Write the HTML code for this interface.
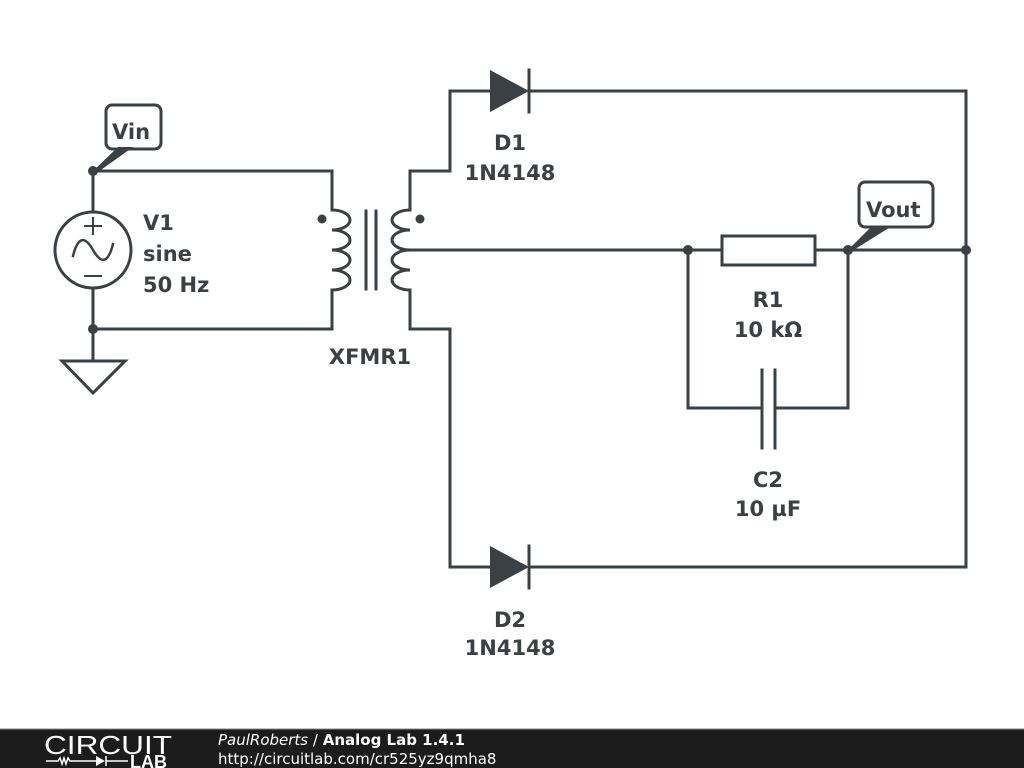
<!DOCTYPE html>
<html><head><style>body{margin:0;width:1024px;height:768px;overflow:hidden;background:#fff}</style></head>
<body>
<svg width="1024" height="768" xmlns="http://www.w3.org/2000/svg" style="position:absolute;left:0;top:0">
<g stroke="#3a4044" stroke-width="3" fill="none" stroke-linecap="square">
<polyline points="93,212 93,171 332,171 332,210"/>
<polyline points="93,288 93,329 332,329 332,290"/>
<line x1="93" y1="329" x2="93" y2="361"/>
<polygon points="62,361 125,361 93,393" stroke-linejoin="miter"/>
<circle cx="93" cy="250" r="38"/>
<path d="M73,256 C78,236 85,236 93,250 C101,264 108,264 113,244" stroke-width="2.5"/>
<line x1="93" y1="218" x2="93" y2="234" stroke-width="2"/><line x1="85" y1="226" x2="101" y2="226" stroke-width="2"/>
<line x1="85" y1="276" x2="101" y2="276" stroke-width="2"/>
<path d="M332,210 a18,10 0 0 1 0,20 a18,10 0 0 1 0,20 a18,10 0 0 1 0,20 a18,10 0 0 1 0,20"/>
<line x1="366" y1="211" x2="366" y2="289"/><line x1="376" y1="211" x2="376" y2="289"/>
<path d="M410,210 a18,10 0 0 0 0,20 a18,10 0 0 0 0,20 a18,10 0 0 0 0,20 a18,10 0 0 0 0,20"/>
<polyline points="410,210 410,171 450,171 450,91 490,91"/>
<polyline points="410,290 410,329 450,329 450,567 490,567"/>
<polyline points="529,91 966,91 966,567 529,567"/>
<line x1="410" y1="250" x2="722" y2="250"/>
<line x1="815" y1="250" x2="966" y2="250"/>
<rect x="722" y="236" width="93" height="29"/>
<polyline points="688,250 688,408 762,408"/>
<polyline points="848,250 848,408 775,408"/>
<line x1="762" y1="370" x2="762" y2="448"/><line x1="775" y1="370" x2="775" y2="448"/>
<line x1="529" y1="70" x2="529" y2="112"/>
<line x1="529" y1="546" x2="529" y2="588"/>
<rect x="106" y="105" width="55" height="44" rx="6"/>
<rect x="859" y="182" width="74" height="45" rx="6"/>
</g>
<g fill="#3a4044">
<polygon points="490,70 529,91 490,112"/>
<polygon points="490,546 529,567 490,588"/>
<circle cx="93" cy="171" r="5"/><circle cx="93" cy="329" r="5"/>
<circle cx="688" cy="250" r="5"/><circle cx="848" cy="250" r="5"/><circle cx="966" cy="250" r="5"/>
<circle cx="322" cy="219" r="4.5"/><circle cx="420" cy="219" r="4.5"/>
<polygon points="93,171 118,147 133,147 98,172"/>
<polygon points="848,250 872,226 892,226 852,251"/>
</g>
<g font-family="DejaVu Sans, sans-serif" font-weight="bold" font-size="21" fill="#3a4044">
<text x="112" y="139">Vin</text>
<text x="866" y="217">Vout</text>
<text x="143" y="230">V1</text><text x="143" y="261">sine</text><text x="143" y="292">50 Hz</text>
<text x="370" y="364" text-anchor="middle">XFMR1</text>
<text x="510" y="150" text-anchor="middle">D1</text><text x="510" y="180" text-anchor="middle">1N4148</text>
<text x="510" y="627" text-anchor="middle">D2</text><text x="510" y="655" text-anchor="middle">1N4148</text>
<text x="768" y="307" text-anchor="middle">R1</text><text x="768" y="337" text-anchor="middle">10 kΩ</text>
<text x="768" y="487" text-anchor="middle">C2</text><text x="768" y="516" text-anchor="middle">10 µF</text>
</g>
<rect x="0" y="729" width="1024" height="39" fill="#1c1c1c"/>
<line x1="0" y1="729" x2="1024" y2="729" stroke="#888" stroke-width="1"/>
<text x="44" y="754" font-family="Liberation Sans, sans-serif" font-size="26" fill="#fff" textLength="128" lengthAdjust="spacingAndGlyphs">CIRCUIT</text>
<path d="M46,761 H58 l2,-3 l2,6 l2,-6 l2,6 l2,-6 l2,3 H96" stroke="#fff" stroke-width="1.5" fill="none"/>
<polygon points="96,756 105,761 96,766" fill="#fff"/><line x1="106" y1="756" x2="106" y2="766" stroke="#fff" stroke-width="1.5"/>
<line x1="106" y1="761" x2="128" y2="761" stroke="#fff" stroke-width="1.5"/>
<text x="130" y="768" font-family="Liberation Sans, sans-serif" font-weight="bold" font-size="18" fill="#fff">LAB</text>
<text x="218" y="745" font-family="DejaVu Sans, sans-serif" font-size="15" fill="#fff"><tspan font-style="italic">PaulRoberts</tspan> / <tspan font-weight="bold">Analog Lab 1.4.1</tspan></text>
<text x="218" y="764" font-family="DejaVu Sans, sans-serif" font-size="15" fill="#fff">http://circuitlab.com/cr525yz9qmha8</text>
</svg>
</body></html>
